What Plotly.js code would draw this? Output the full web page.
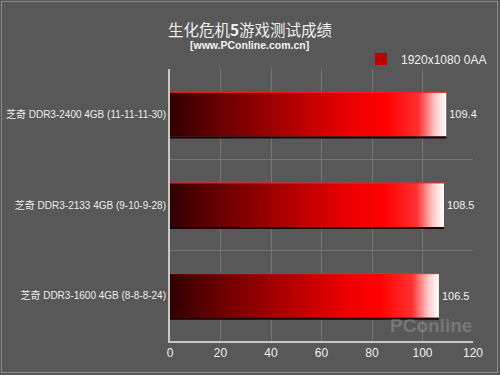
<!DOCTYPE html>
<html>
<head>
<meta charset="utf-8">
<script src="https://cdn.plot.ly/plotly-3.0.1.min.js"></script>
<style>
html,body{margin:0;padding:0;background:#585858;}
#wrap{position:relative;width:500px;height:375px;}
#chart{width:500px;height:375px;}
#frame{position:absolute;left:1px;top:1px;width:495px;height:370px;border:1px solid #8c8c8c;pointer-events:none;}
</style>
</head>
<body>
<div id="wrap"><div id="chart"></div><div id="frame"></div></div>
<script>
var categories = ["芝奇 DDR3-2400 4GB (11-11-11-30)", "芝奇 DDR3-2133 4GB (9-10-9-28)", "芝奇 DDR3-1600 4GB (8-8-8-24)"];
var values = [109.4, 108.5, 106.5];
var seriesName = "1920x1080 0AA";
var xTicks = [0, 20, 40, 60, 80, 100, 120];

var barWidth = 0.486;
var idx = categories.map(function(c, i){ return i; });
var font = "Arial, 'Liberation Sans', 'Noto Sans CJK SC', sans-serif";

var traces = [{
  type: 'bar', orientation: 'h',
  x: values, y: idx, width: barWidth,
  name: seriesName,
  marker: {color: '#c00000', line: {width: 0}},
  text: values.map(function(v){ return v.toFixed(1); }),
  textposition: 'outside', cliponaxis: false,
  textfont: {color: '#f2f2f2', size: 11, family: font},
  hoverinfo: 'none'
}];

var gradient = [[0,'#300000'],[0.12,'#580000'],[0.3,'#8a0000'],[0.5,'#c20000'],[0.66,'#ee0000'],[0.78,'#ff0000'],[0.9,'#ff3030'],[0.96,'#ffc8c8'],[1,'#ffffff']];
values.forEach(function(v, i){
  var h = barWidth / 2;
  traces.push({
    type: 'scatter', mode: 'lines', fill: 'toself',
    x: [0, v, v, 0, 0], y: [i - h, i - h, i + h, i + h, i - h],
    line: {width: 0},
    fillgradient: {type: 'horizontal', colorscale: gradient, start: 0, stop: v},
    showlegend: false, hoverinfo: 'none'
  });
  traces.push({
    type: 'scatter', mode: 'lines',
    x: [0, v], y: [i + h + 0.012, i + h + 0.012],
    line: {width: 2, color: '#1a0000'},
    showlegend: false, hoverinfo: 'none'
  });
  traces.push({
    type: 'scatter', mode: 'lines',
    x: [0, v], y: [i - h, i - h],
    line: {width: 1, color: '#ff2020'},
    showlegend: false, hoverinfo: 'none'
  });
});

var layout = {
  width: 500, height: 375,
  paper_bgcolor: '#585858', plot_bgcolor: '#585858',
  margin: {l: 170, r: 27, t: 69, b: 34, autoexpand: false},
  font: {family: font, color: '#eeeeee', size: 11},
  title: {
    text: '生化危机<b>5</b>游戏测试成绩',
    font: {family: "'Noto Sans CJK SC', sans-serif", size: 15.5, color: '#f0f0f0'},
    x: 0.5, xanchor: 'center', y: 0.918, yanchor: 'middle'
  },
  annotations: [
    {text: '<b>[www.PConline.com.cn]</b>', xref: 'paper', yref: 'paper', x: 0.264, y: 1.088,
     xanchor: 'center', yanchor: 'middle', showarrow: false,
     font: {family: font, size: 10.5, color: '#f4f4f4'}},
    {text: '<b>PConline</b>', xref: 'paper', yref: 'paper', x: 0.86, y: 0.01,
     xanchor: 'center', yanchor: 'bottom', showarrow: false,
     font: {family: font, size: 19, color: 'rgba(200,200,200,0.3)'}}
  ],
  showlegend: true,
  legend: {xref: 'container', yref: 'container', x: 0.722, y: 0.843, xanchor: 'left', yanchor: 'middle',
           bgcolor: 'rgba(0,0,0,0)',
           font: {family: font, size: 12, color: '#f0f0f0'}, itemwidth: 30},
  xaxis: {
    range: [0, 120], tickvals: xTicks, ticktext: xTicks.map(String),
    showgrid: true, gridcolor: '#767676', gridwidth: 1, zeroline: false,
    showline: true, linecolor: '#c8c8c8', linewidth: 2, ticks: '',
    tickfont: {size: 12, color: '#f0f0f0', family: font}, fixedrange: true
  },
  yaxis: {
    range: [2.5, -0.5], tickvals: idx, ticktext: categories,
    showgrid: false, zeroline: false, ticks: '',
    showline: true, linecolor: '#c8c8c8', linewidth: 2,
    minor: {tickmode: 'array', tickvals: [-0.5, 0.5, 1.5], showgrid: true, gridcolor: '#767676', gridwidth: 1, ticks: ''},
    tickfont: {size: 10, color: '#eeeeee', family: font}, fixedrange: true
  },
  bargap: 0.5
};

Plotly.newPlot('chart', traces, layout, {displayModeBar: false, staticPlot: true});
</script>
</body>
</html>
